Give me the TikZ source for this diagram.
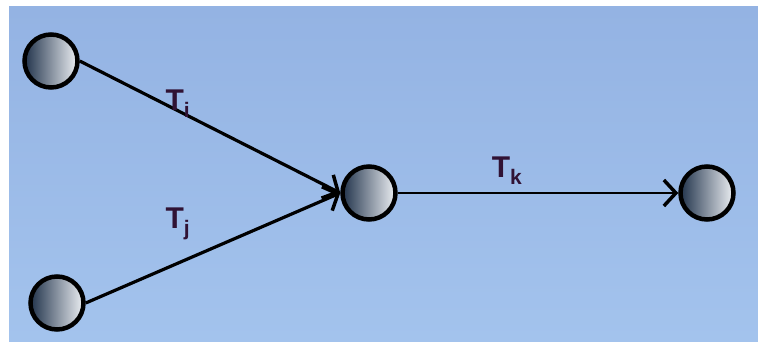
\documentclass[tikz,border=0pt]{standalone}
\usepackage{fontspec}
\setsansfont{Liberation Sans}
\usetikzlibrary{arrows.meta}

\definecolor{bgtop}{RGB}{148,179,227}
\definecolor{bgbot}{RGB}{163,195,237}
\definecolor{balldark}{RGB}{34,52,76}
\definecolor{balllight}{RGB}{236,239,243}
\definecolor{labelcol}{RGB}{48,18,52}

\begin{document}
\begin{tikzpicture}[x=1pt,y=-1pt,>={Straight Barb[length=12pt,width=26pt,line width=3.5pt]},
  state/.style={circle,draw=black,line width=4.5pt,minimum size=53pt,inner sep=0pt,
    left color=balldark,right color=balllight},
  tlabel/.style={font=\sffamily\bfseries\fontsize{30}{30}\selectfont,text=labelcol,inner sep=0pt}]
  \useasboundingbox (0,0) rectangle (758,345);
  \fill[top color=bgtop,bottom color=bgbot] (9,7) rectangle (758,341);
  % states
  \node[state] (a) at (51,61) {};
  \node[state] (b) at (57,303) {};
  \node[state] (c) at (369,193) {};
  \node[state] (d) at (707,193) {};
  % transitions
  \draw[->,line width=3.2pt] (a.east) -- (c.west);
  \draw[->,line width=3.2pt] (b.east) -- (c.west);
  \draw[->,line width=2.2pt] (c.east) -- (d.west);
  \node[tlabel] (ti) at (178,104) {T\textsubscript{i}};
  \node[tlabel] (tj) at (178,224) {T\textsubscript{j}};
  \node[tlabel] (tk) at (507,171) {T\textsubscript{k}};
\end{tikzpicture}
\end{document}
